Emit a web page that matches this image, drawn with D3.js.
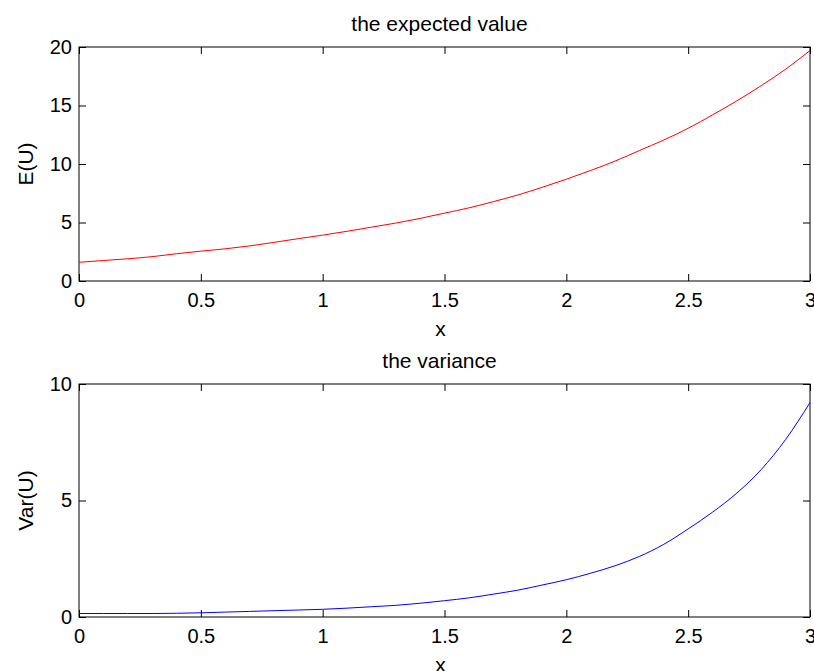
<!DOCTYPE html>
<html>
<head>
<meta charset="utf-8">
<script src="https://cdn.jsdelivr.net/npm/d3@7"></script>
<style>
  body { margin: 0; background: #fff; }
  svg text { font-family: "Liberation Sans", Arial, Helvetica, sans-serif; fill: #000; }
</style>
</head>
<body>
<div id="chart"></div>
<script>
// values, x from 0 to 3 in steps of 0.1
const xs = d3.range(31).map(i => +(i * 0.1).toFixed(1));
const expected = [1.6, 1.75, 1.9, 2.08, 2.33, 2.55, 2.75, 3.0, 3.3, 3.62,
  3.92, 4.25, 4.6, 4.95, 5.35, 5.8, 6.25, 6.78, 7.35, 8.0,
  8.7, 9.45, 10.25, 11.15, 12.05, 13.05, 14.2, 15.4, 16.7, 18.1, 19.7];
const variance = [0.15, 0.15, 0.15, 0.15, 0.16, 0.18, 0.21, 0.24, 0.27, 0.3,
  0.33, 0.38, 0.44, 0.5, 0.59, 0.7, 0.82, 0.98, 1.15, 1.37,
  1.6, 1.88, 2.2, 2.6, 3.12, 3.78, 4.5, 5.32, 6.33, 7.62, 9.2];

const xTicks = [0, 0.5, 1, 1.5, 2, 2.5, 3];
const expectedTicks = [0, 5, 10, 15, 20];
const varianceTicks = [0, 5, 10];

const width = 814, height = 671;
const svg = d3.select('#chart').append('svg')
  .attr('width', width)
  .attr('height', height);

const left = 79, right = 810;
const tick = 7;
const tickFont = 20;
const labelFont = 21;

function panel(opts) {
  const x = d3.scaleLinear().domain([0, 3]).range([left, right]);
  const y = d3.scaleLinear().domain(opts.yDomain).range([opts.bottom, opts.top]);
  const g = svg.append('g');

  // box
  g.append('rect')
    .attr('x', left).attr('y', opts.top)
    .attr('width', right - left).attr('height', opts.bottom - opts.top)
    .attr('fill', 'none').attr('stroke', '#000').attr('stroke-width', 1);

  const styleAxis = sel => {
    sel.select('.domain').remove();
    sel.selectAll('line').attr('stroke', '#000');
    sel.selectAll('text').style('font-size', tickFont + 'px').attr('fill', '#000');
  };

  g.append('g').attr('transform', `translate(0,${opts.bottom})`)
    .call(d3.axisBottom(x).tickValues(xTicks).tickFormat(d3.format('')).tickSize(-tick).tickPadding(12))
    .call(styleAxis);
  g.append('g').attr('transform', `translate(0,${opts.top})`)
    .call(d3.axisTop(x).tickValues(xTicks).tickFormat('').tickSize(-tick))
    .call(styleAxis);
  g.append('g').attr('transform', `translate(${left},0)`)
    .call(d3.axisLeft(y).tickValues(opts.yTicks).tickSize(-tick).tickPadding(7))
    .call(styleAxis);
  g.append('g').attr('transform', `translate(${right},0)`)
    .call(d3.axisRight(y).tickValues(opts.yTicks).tickFormat('').tickSize(-tick))
    .call(styleAxis);

  const line = d3.line()
    .x((d, i) => x(xs[i]))
    .y(d => y(d))
    .curve(d3.curveMonotoneX);

  g.append('path')
    .datum(opts.values)
    .attr('d', line)
    .attr('fill', 'none')
    .attr('stroke', opts.color)
    .attr('stroke-width', 1);

  // titles and labels
  g.append('text')
    .attr('x', (left + right) / 2 - 5).attr('y', opts.top - 16)
    .attr('text-anchor', 'middle')
    .style('font-size', labelFont + 'px')
    .text(opts.title);

  g.append('text')
    .attr('x', (left + right) / 2 - 4).attr('y', opts.bottom + 55)
    .attr('text-anchor', 'middle')
    .style('font-size', labelFont + 'px')
    .text('x');

  g.append('text')
    .attr('transform', `translate(33,${(opts.top + opts.bottom) / 2}) rotate(-90)`)
    .attr('text-anchor', 'middle')
    .style('font-size', labelFont + 'px')
    .text(opts.ylabel);
}

panel({
  top: 47, bottom: 281, yDomain: [0, 20], yTicks: expectedTicks,
  values: expected, color: '#ff0000',
  title: 'the expected value', ylabel: 'E(U)'
});

panel({
  top: 384, bottom: 617, yDomain: [0, 10], yTicks: varianceTicks,
  values: variance, color: '#0000ff',
  title: 'the variance', ylabel: 'Var(U)'
});
</script>
</body>
</html>
